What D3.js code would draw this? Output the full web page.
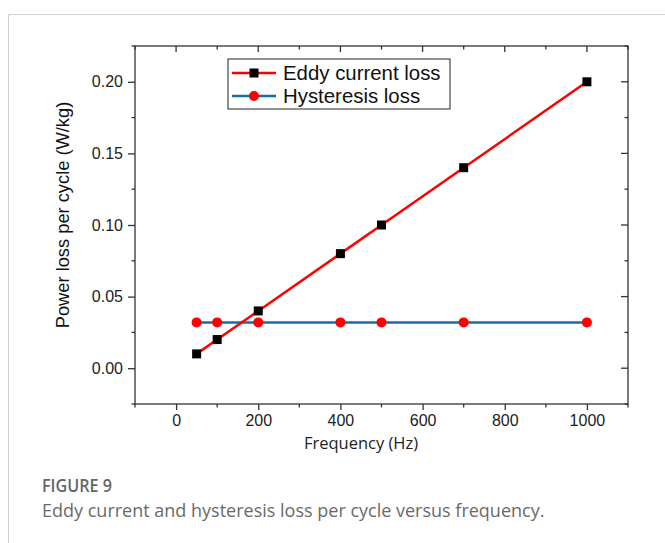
<!DOCTYPE html>
<html><head><meta charset="utf-8">
<script src="https://cdn.jsdelivr.net/npm/d3@7"></script>
<style>body{margin:0;background:#fff}svg{display:block}</style>
</head><body>
<script>
const frequency = [50, 100, 200, 400, 500, 700, 1000];
const eddyLoss = [0.01, 0.02, 0.04, 0.08, 0.10, 0.14, 0.20];
const hysteresisLoss = [0.032, 0.032, 0.032, 0.032, 0.032, 0.032, 0.032];
const xTicks = [0, 200, 400, 600, 800, 1000];
const yTicks = [0.00, 0.05, 0.10, 0.15, 0.20];
const seriesNames = ["Eddy current loss", "Hysteresis loss"];

const W = 665, H = 543;
const svg = d3.select("body").append("svg").attr("width", W).attr("height", H);

// card border
svg.append("path").attr("d", "M8.5,543 V14.5 H665").attr("fill","none").attr("stroke","#d0d0d0").attr("stroke-width",1);

const L = 135, R = 628, T = 46, B = 404;
const x = d3.scaleLinear().domain([-100, 1100]).range([L, R]);
const y = d3.scaleLinear().domain([-0.025, 0.225]).range([B, T]);

const xMinor = d3.range(-100, 1101, 100);
const yMinor = d3.range(-0.025, 0.2251, 0.025);
const tickFont = "'Liberation Sans', Arial, sans-serif";

const g = svg.append("g");
// frame
g.append("rect").attr("x", L).attr("y", T).attr("width", R-L).attr("height", B-T)
  .attr("fill","none").attr("stroke","#333").attr("stroke-width",1.3);

// bottom axis (outward ticks)
const bottom = g.append("g").attr("transform", `translate(0,${B})`)
  .call(d3.axisBottom(x).tickValues(xTicks).tickSize(6).tickPadding(5).tickFormat(d3.format("d")));
bottom.select(".domain").remove();
bottom.selectAll("text").attr("font-family",tickFont).attr("font-size",16).attr("fill","#222");
bottom.selectAll("line").attr("stroke","#333").attr("stroke-width",1.3);
g.append("g").attr("transform", `translate(0,${B})`).selectAll("line")
  .data(xMinor.filter(v => !xTicks.includes(v))).join("line")
  .attr("x1", d=>x(d)).attr("x2", d=>x(d)).attr("y1",0).attr("y2",3.5).attr("stroke","#333").attr("stroke-width",1.3);

// top axis (inward ticks)
g.append("g").selectAll("line").data(xMinor).join("line")
  .attr("x1", d=>x(d)).attr("x2", d=>x(d)).attr("y1",T)
  .attr("y2", d=> T + (xTicks.includes(d)?6:3.5)).attr("stroke","#333").attr("stroke-width",1.3);

// left axis (outward ticks)
const left = g.append("g").attr("transform", `translate(${L},0)`)
  .call(d3.axisLeft(y).tickValues(yTicks).tickSize(7).tickPadding(5).tickFormat(d3.format(".2f")));
left.select(".domain").remove();
left.selectAll("text").attr("font-family",tickFont).attr("font-size",16).attr("fill","#222");
left.selectAll("line").attr("stroke","#333").attr("stroke-width",1.3);
const isMajorY = v => yTicks.some(t => Math.abs(t - v) < 1e-9);
g.append("g").selectAll("line").data(yMinor.filter(v => !isMajorY(v))).join("line")
  .attr("x1", L-3.5).attr("x2", L).attr("y1", d=>y(d)).attr("y2", d=>y(d)).attr("stroke","#333").attr("stroke-width",1.3);

// right axis (inward ticks)
g.append("g").selectAll("line").data(yMinor).join("line")
  .attr("x1", d => R - (isMajorY(d)?7:3.5)).attr("x2", R).attr("y1", d=>y(d)).attr("y2", d=>y(d)).attr("stroke","#333").attr("stroke-width",1.3);

// axis titles
svg.append("text").attr("x", 361).attr("y", 449).attr("text-anchor","middle")
  .attr("font-family","'Open Sans', sans-serif").attr("font-size",16.5).attr("fill","#222").text("Frequency (Hz)");
svg.append("text").attr("transform", `translate(69,215) rotate(-90)`).attr("text-anchor","middle")
  .attr("font-family",tickFont).attr("font-size",18.3).attr("fill","#111").text("Power loss per cycle (W/kg)");

const eddyData = frequency.map((f,i)=>({f, v:eddyLoss[i]}));
const hysData = frequency.map((f,i)=>({f, v:hysteresisLoss[i]}));
const line = d3.line().x(d=>x(d.f)).y(d=>y(d.v));
const blue = "#1a6aa5", red = "#ff0000";

g.append("path").datum(hysData).attr("d", line).attr("fill","none").attr("stroke",blue).attr("stroke-width",2.5);
g.append("path").datum(eddyData).attr("d", line).attr("fill","none").attr("stroke",red).attr("stroke-width",2.5);
g.selectAll(".hc").data(hysData).join("circle").attr("cx",d=>x(d.f)).attr("cy",d=>y(d.v)).attr("r",5).attr("fill",red);
g.selectAll(".es").data(eddyData).join("rect").attr("x",d=>x(d.f)-4.5).attr("y",d=>y(d.v)-4.5).attr("width",9).attr("height",9).attr("fill","#000");

// legend
const lg = svg.append("g");
lg.append("rect").attr("x",228).attr("y",59).attr("width",222).attr("height",50).attr("fill","#fff").attr("stroke","#222").attr("stroke-width",1);
const items = [{name:seriesNames[0], lc:red, marker:"square"},{name:seriesNames[1], lc:blue, marker:"circle"}];
items.forEach((it,i)=>{
  const cy = 73 + i*23;
  lg.append("line").attr("x1",232).attr("x2",276).attr("y1",cy).attr("y2",cy).attr("stroke",it.lc).attr("stroke-width",2.5);
  if (it.marker==="square") lg.append("rect").attr("x",254-4.5).attr("y",cy-4.5).attr("width",9).attr("height",9).attr("fill","#000");
  else lg.append("circle").attr("cx",254).attr("cy",cy).attr("r",5).attr("fill",red);
  lg.append("text").attr("x",283).attr("y",cy+7).attr("font-family",tickFont).attr("font-size",20.4).attr("fill","#111").text(it.name);
});

// caption
svg.append("text").attr("x",42).attr("y",492).attr("font-family","'Open Sans', sans-serif").attr("font-size",18.5).attr("font-weight",600).attr("fill","#666")
  .attr("textLength",70).attr("lengthAdjust","spacingAndGlyphs").text("FIGURE 9");
svg.append("text").attr("x",42).attr("y",517).attr("font-family","'Open Sans', sans-serif").attr("font-size",18).attr("fill","#6a6a6a").text("Eddy current and hysteresis loss per cycle versus frequency.");
</script>
</body></html>
